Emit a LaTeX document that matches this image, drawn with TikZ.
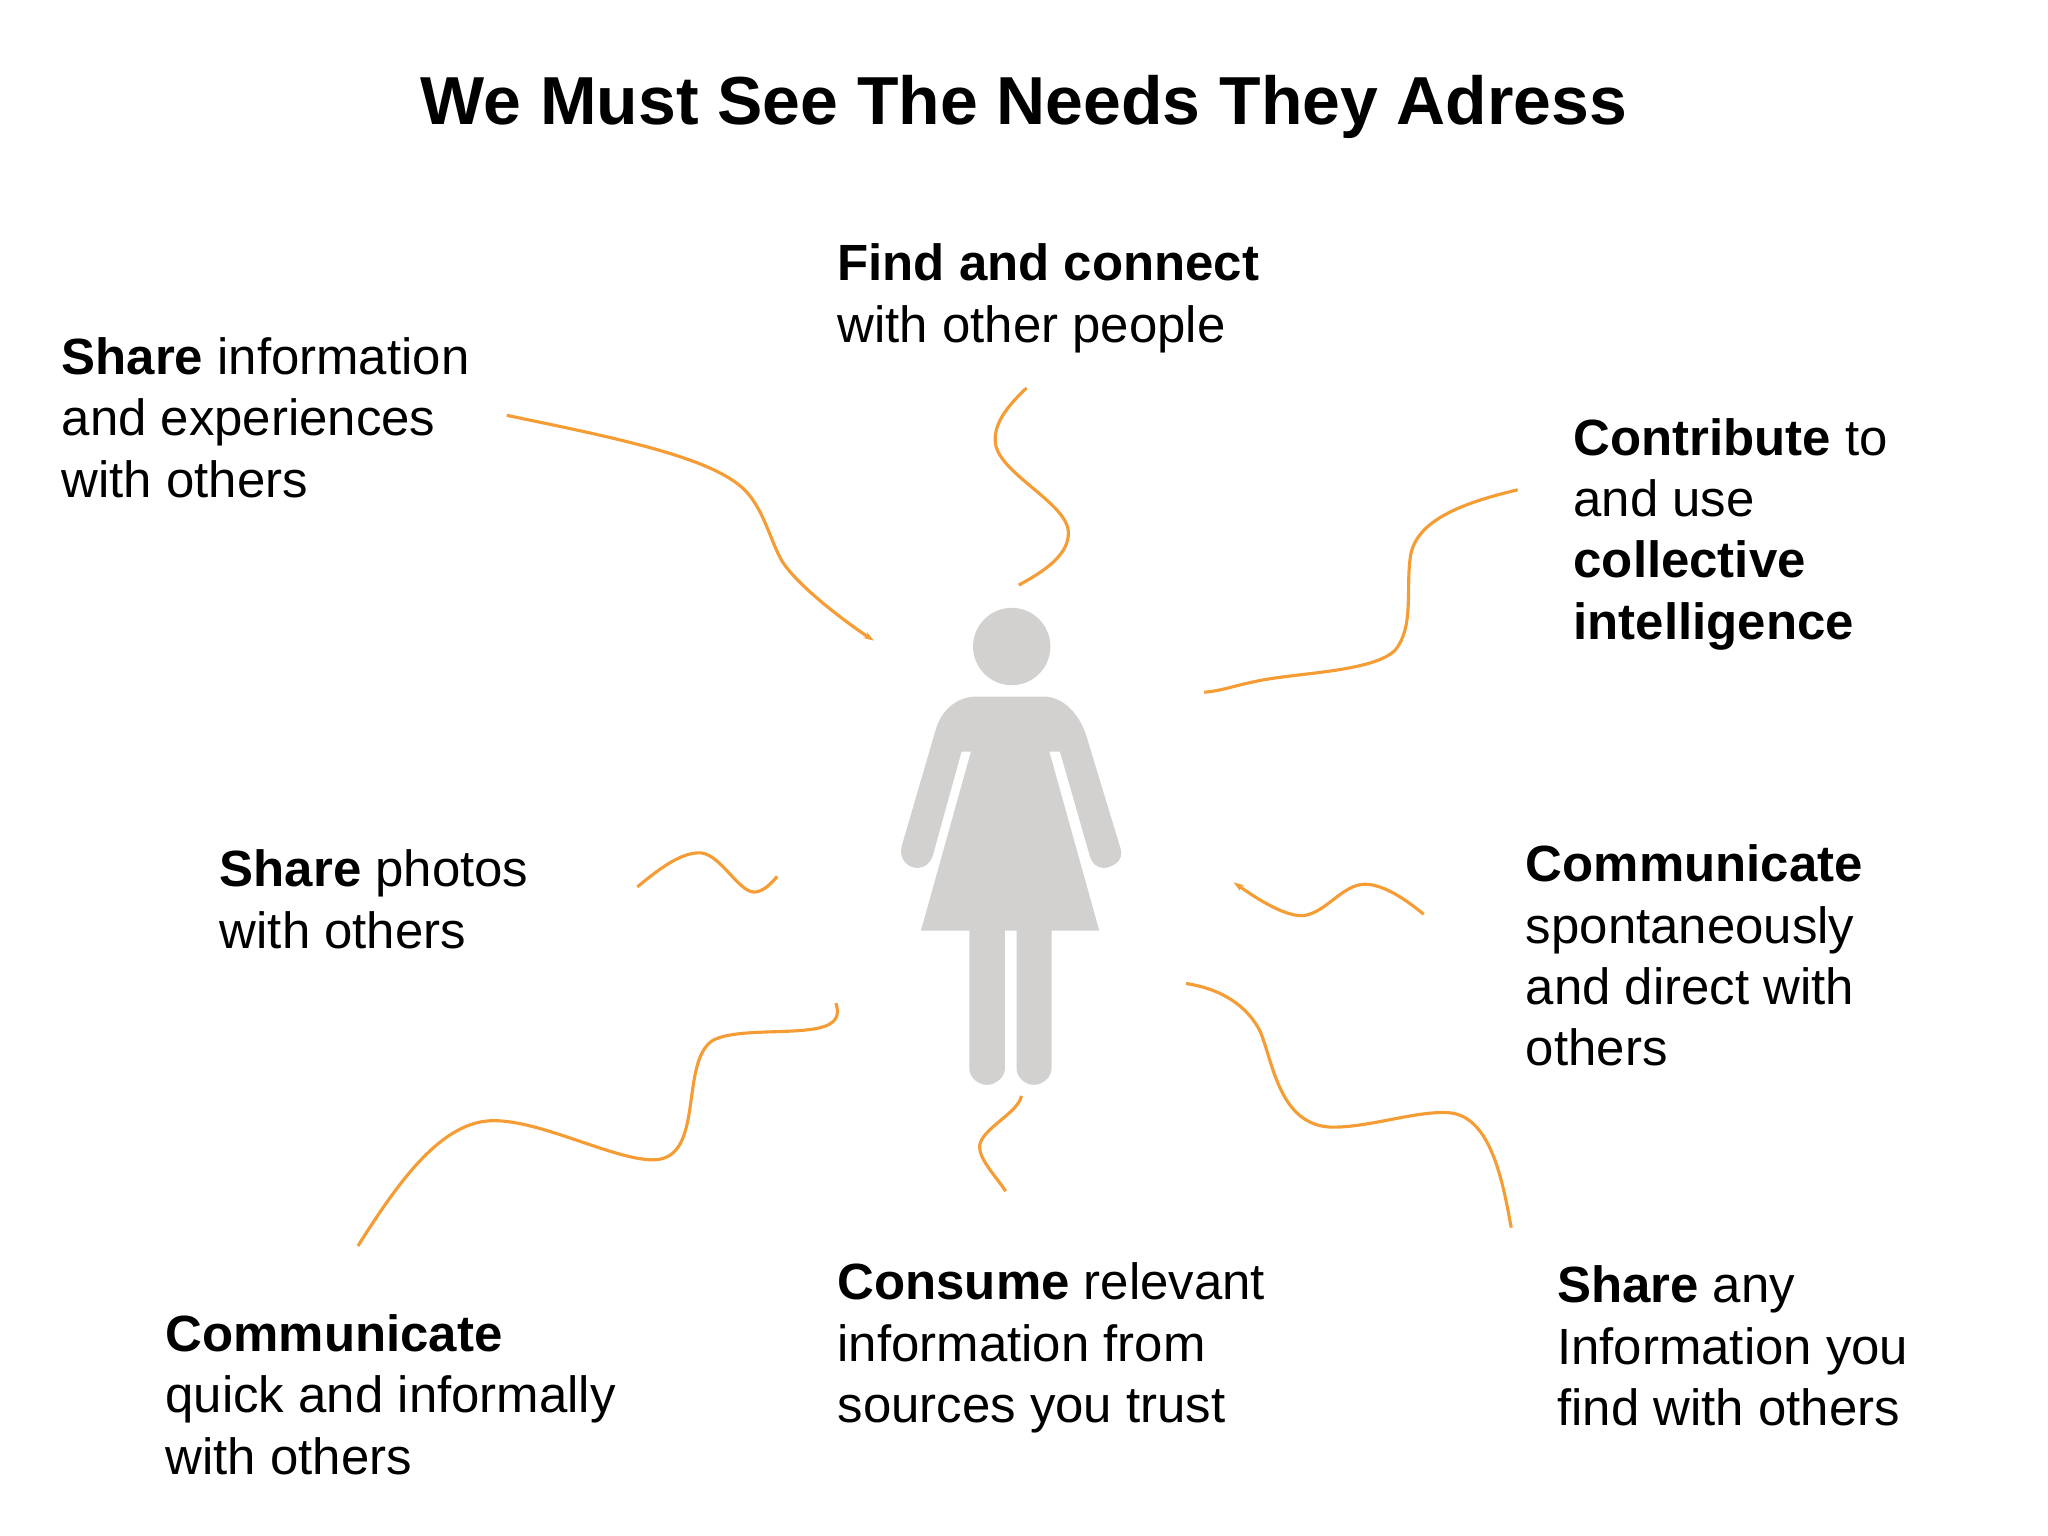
\documentclass[tikz,border=0pt]{standalone}
\usepackage{fontspec}
\setmainfont{Liberation Sans}
\usepackage{xcolor}
\usetikzlibrary{arrows.meta}
\tikzset{
  bodytext/.style={anchor=north west,inner sep=0pt,align=left,font=\fontsize{29.25}{35.25}\selectfont},
  titletext/.style={anchor=north,inner sep=0pt,font=\fontsize{39}{47}\selectfont\bfseries},
  squiggle/.style={draw={rgb, 255:red, 245; green, 156; blue, 52},line width=1.8pt},
  tipped/.style={-{Stealth[length=6pt,width=4pt]}},
  silhouette/.style={fill={rgb, 255:red, 211; green, 208; blue, 208},draw=none}
}
\begin{document}
\begin{tikzpicture}[x=0.75pt,y=0.75pt,yscale=-1,xscale=1]
\useasboundingbox (0,0) rectangle (1568,1176);

% Text Node
\draw (784,57) node (title) [titletext] {We Must See The Needs They Adress};
% Text Node
\draw (47,258) node (shareinfo) [bodytext] {\textbf{Share} information\\and experiences\\with others};
% Text Node
\draw (641,186.5) node (findconnect) [bodytext] {\textbf{Find and connect}\\with other people};
% Text Node
\draw (1204.5,320) node (contribute) [bodytext] {\textbf{Contribute} to\\and use\\\textbf{collective}\\\textbf{intelligence}};
% Text Node
\draw (168,650.5) node (sharephotos) [bodytext] {\textbf{Share} photos\\with others};
% Text Node
\draw (1168,646.5) node (commdirect) [bodytext] {\textbf{Communicate}\\spontaneously\\and direct with\\others};
% Text Node
\draw (126.5,1006) node (commquick) [bodytext] {\textbf{Communicate}\\quick and informally\\with others};
% Text Node
\draw (641,966.5) node (consume) [bodytext] {\textbf{Consume} relevant\\information from\\sources you trust};
% Text Node
\draw (1192,969) node (shareany) [bodytext] {\textbf{Share} any\\Information you\\find with others};

%Shape: Circle
\fill [silhouette] (774.6,495) circle [radius=29.6];
%Shape: Body
\fill [silhouette] (747.7,533.3) -- (798.8,533.3) .. controls (815,533.3) and (827,548) .. (831.9,564) -- (857.5,648.2) .. controls (862,660) and (850,664.5) .. (845,664.5) .. controls (840,664.5) and (836,661) .. (834.5,655.8) -- (811.5,575.4) -- (803.4,575.4) -- (841.6,712.5) -- (805.1,712.5) -- (805.1,817.9) .. controls (805.1,825) and (798,830.6) .. (791.7,830.6) .. controls (785,830.6) and (778.3,825) .. (778.3,817.9) -- (778.3,712.5) -- (769.4,712.5) -- (769.4,817.9) .. controls (769.4,825) and (762,830.6) .. (755.7,830.6) .. controls (749,830.6) and (742.1,825) .. (742.1,817.9) -- (742.1,712.5) -- (705.1,712.5) -- (743.4,575.4) -- (736.2,575.4) -- (714,655.8) .. controls (712,661) and (708,664.5) .. (702.5,664.5) .. controls (695,664.5) and (688,658) .. (690.3,648) -- (717.1,556.3) .. controls (722,543) and (733,533.3) .. (747.7,533.3) -- cycle;

% Connector ends
\coordinate (shareinfoA) at (388,318);
\coordinate (shareinfoB) at (669,490.5);
\coordinate (findconnectA) at (786,297);
\coordinate (findconnectB) at (780,448);
\coordinate (contributeA) at (1162,375);
\coordinate (contributeB) at (922,530);
\coordinate (sharephotosA) at (488,679);
\coordinate (sharephotosB) at (595,671);
\coordinate (commdirectA) at (1090,700);
\coordinate (commdirectB) at (944.5,675.5);
\coordinate (shareanyA) at (1157,940);
\coordinate (shareanyB) at (908,753);
\coordinate (consumeA) at (770,912);
\coordinate (consumeB) at (782,839);
\coordinate (commquickA) at (274,954);
\coordinate (commquickB) at (640,768);

%Curve
\draw [squiggle,tipped] (shareinfoA) .. controls (470,335) and (545,350) .. (570,375) .. controls (585,390) and (590,415) .. (599,430) .. controls (612,450) and (650,478) .. (shareinfoB);
%Curve
\draw [squiggle] (findconnectA) .. controls (770,312) and (761,325) .. (762,338) .. controls (763,362) and (818,385) .. (818,408) .. controls (818,425) and (800,437) .. (findconnectB);
%Curve
\draw [squiggle] (contributeA) .. controls (1120,385) and (1085,398) .. (1080,425) .. controls (1076,450) and (1083,480) .. (1068,498) .. controls (1050,515) and (990,515) .. (960,522) .. controls (945,525) and (935,529) .. (contributeB);
%Curve
\draw [squiggle] (sharephotosA) .. controls (505,665) and (522,652) .. (537,653) .. controls (552,655) and (565,682) .. (577,683) .. controls (584,683) and (590,677) .. (sharephotosB);
%Curve
\draw [squiggle,tipped] (commdirectA) .. controls (1078,690) and (1060,677) .. (1045,677) .. controls (1028,677) and (1015,699) .. (998,701) .. controls (985,702) and (965,690) .. (commdirectB);
%Curve
\draw [squiggle] (shareanyB) .. controls (935,757) and (955,770) .. (965,790) .. controls (975,815) and (980,862) .. (1020,863) .. controls (1050,863) and (1085,850) .. (1110,852) .. controls (1140,855) and (1150,900) .. (shareanyA);
%Curve
\draw [squiggle] (consumeB) .. controls (780,852) and (750,865) .. (750,878) .. controls (750,888) and (762,900) .. (consumeA);
%Curve
\draw [squiggle] (commquickA) .. controls (305,905) and (338,858) .. (378,858) .. controls (415,858) and (470,888) .. (500,888) .. controls (540,888) and (520,815) .. (545,797) .. controls (565,785) and (625,795) .. (638,782) .. controls (643,777) and (641,772) .. (commquickB);

\end{tikzpicture}
\end{document}
